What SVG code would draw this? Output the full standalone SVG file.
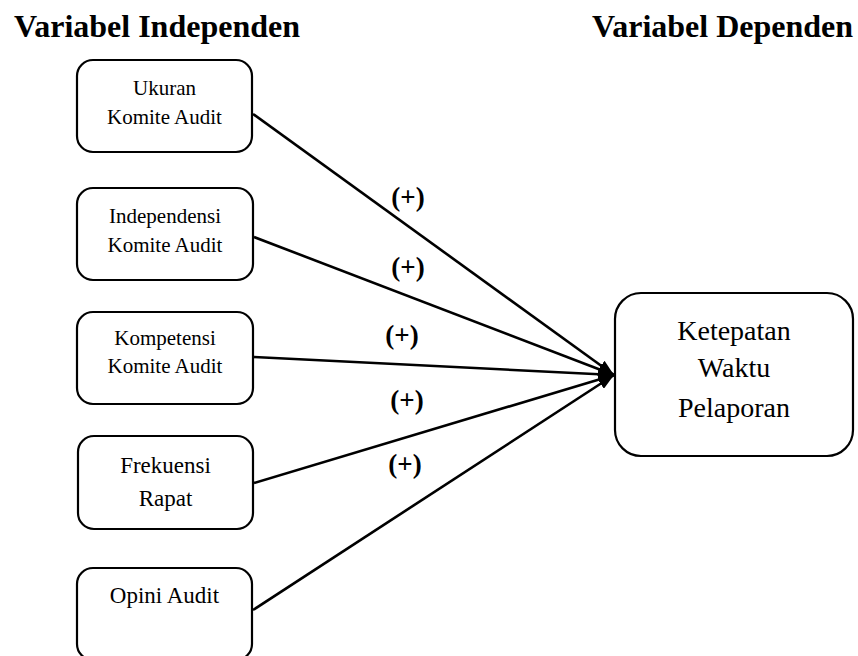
<svg xmlns="http://www.w3.org/2000/svg" width="858" height="656" viewBox="0 0 858 656">
<style>
.box{fill:#fff;stroke:#000;stroke-width:2.2}
.t{font-family:"Liberation Serif",serif;fill:#000;text-anchor:middle}
.title{font-family:"Liberation Serif",serif;font-weight:bold;font-size:32px;fill:#000}
.lbl{font-family:"Liberation Serif",serif;font-weight:bold;font-size:27px;fill:#000;text-anchor:middle}
.edge{stroke:#000;stroke-width:2.6;fill:none;marker-end:url(#ah)}
</style>
<defs>
<marker id="ah" markerUnits="userSpaceOnUse" viewBox="0 0 16 12" refX="16" refY="6" markerWidth="16" markerHeight="12" orient="auto">
<path d="M0,0 L16,6 L0,12 z" fill="#000"/>
</marker>
</defs>
<rect width="858" height="656" fill="#fff"/>
<text class="title" x="14" y="37">Variabel Independen</text>
<text class="title" x="592" y="37">Variabel Dependen</text>
<g id="connectors">
<line class="edge" x1="253" y1="114" x2="614" y2="375"/>
<line class="edge" x1="254" y1="237" x2="614" y2="375"/>
<line class="edge" x1="254" y1="357" x2="614" y2="375"/>
<line class="edge" x1="254" y1="483" x2="614" y2="375"/>
<line class="edge" x1="253" y1="610" x2="614" y2="375"/>
<text class="lbl" x="408" y="206">(+)</text>
<text class="lbl" x="408" y="276">(+)</text>
<text class="lbl" x="402" y="344">(+)</text>
<text class="lbl" x="407" y="409">(+)</text>
<text class="lbl" x="405" y="473">(+)</text>
</g>
<g id="n1">
<rect class="box" x="77" y="60" width="175" height="92" rx="16"/>
<text class="t" x="164.5" y="95" font-size="21">Ukuran</text>
<text class="t" x="164.5" y="124" font-size="21">Komite Audit</text>
</g>
<g id="n2">
<rect class="box" x="77" y="188" width="176" height="92" rx="16"/>
<text class="t" x="165" y="223" font-size="21">Independensi</text>
<text class="t" x="165" y="252" font-size="21">Komite Audit</text>
</g>
<g id="n3">
<rect class="box" x="77" y="312" width="176" height="92" rx="16"/>
<text class="t" x="165" y="345" font-size="21">Kompetensi</text>
<text class="t" x="165" y="373" font-size="21">Komite Audit</text>
</g>
<g id="n4">
<rect class="box" x="78" y="436" width="175" height="93" rx="16"/>
<text class="t" x="165.5" y="473" font-size="23">Frekuensi</text>
<text class="t" x="165.5" y="506" font-size="23">Rapat</text>
</g>
<g id="n5">
<rect class="box" x="77" y="568" width="175" height="92" rx="16"/>
<text class="t" x="164.5" y="603" font-size="23">Opini Audit</text>
</g>
<g id="n6">
<rect class="box" x="615" y="293" width="238" height="163" rx="26"/>
<text class="t" x="734" y="340" font-size="28">Ketepatan</text>
<text class="t" x="734" y="377" font-size="28">Waktu</text>
<text class="t" x="734" y="417" font-size="28">Pelaporan</text>
</g>
</svg>
